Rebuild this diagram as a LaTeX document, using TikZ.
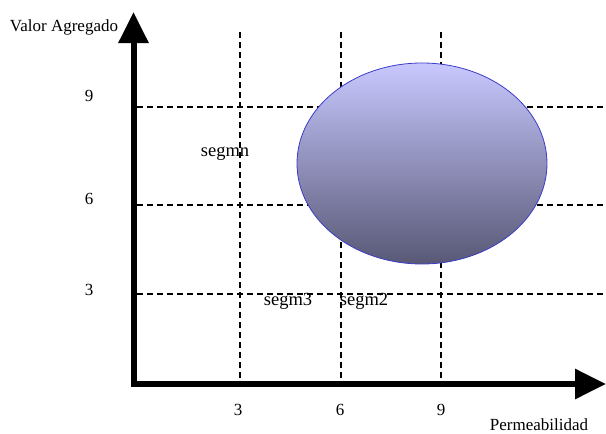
\documentclass[tikz,border=0pt]{standalone}
\usepackage{fontspec}
\setmainfont{Liberation Serif}
\usetikzlibrary{arrows.meta}
\begin{document}
\begin{tikzpicture}[x=1pt,y=-1pt,
  grid/.style={dash pattern=on 6pt off 4pt,line width=1.1pt,black},
  axis/.style={line width=6pt,-{Triangle[length=31pt,width=29pt]}},
  lbl/.style={inner sep=0pt,font=\fontsize{17}{19}\selectfont},
  seg/.style={inner sep=0pt,font=\fontsize{18.5}{20}\selectfont}]
\useasboundingbox (0,0) rectangle (606,434);
% grid
\foreach \x/\n in {240/a,341/b,441/c}{
  \coordinate (v\n t) at (\x,32); \coordinate (v\n b) at (\x,381);
  \draw[grid] (v\n t) -- (v\n b);}
\foreach \y/\n in {107/a,205/b,294/c}{
  \coordinate (h\n l) at (137,\y); \coordinate (h\n r) at (606,\y);
  \draw[grid] (h\n l) -- (h\n r);}
% ellipse
\coordinate (ell) at (422,163.5);
\shade[top color={rgb,255:red,200;green,200;blue,255},bottom color={rgb,255:red,88;green,88;blue,118},
  draw={rgb,255:red,60;green,60;blue,200},line width=0.8pt] (ell) ellipse [x radius=125, y radius=100.5];
% axes
\coordinate (o) at (133.5,384);
\coordinate (ob) at (133.5,387);
\coordinate (ytip) at (133.5,12);
\coordinate (xtip) at (606,384);
\draw[axis] (ob) -- (ytip);
\draw[axis] (o) -- (xtip);
% labels
\node[lbl] (ylab) at (64,27) {Valor Agregado};
\node[lbl] (xlab) at (539,425) {Permeabilidad};
\node[lbl] (y9) at (89,96) {9};
\node[lbl] (y6) at (89,199) {6};
\node[lbl] (y3) at (89,290) {3};
\node[lbl] (x3) at (238,410) {3};
\node[lbl] (x6) at (340,410) {6};
\node[lbl] (x9) at (441,410) {9};
\node[seg] (s1) at (225,154) {segmn};
\node[seg] (s3) at (288,301) {segm3};
\node[seg] (s2) at (364,301) {segm2};
\end{tikzpicture}
\end{document}
